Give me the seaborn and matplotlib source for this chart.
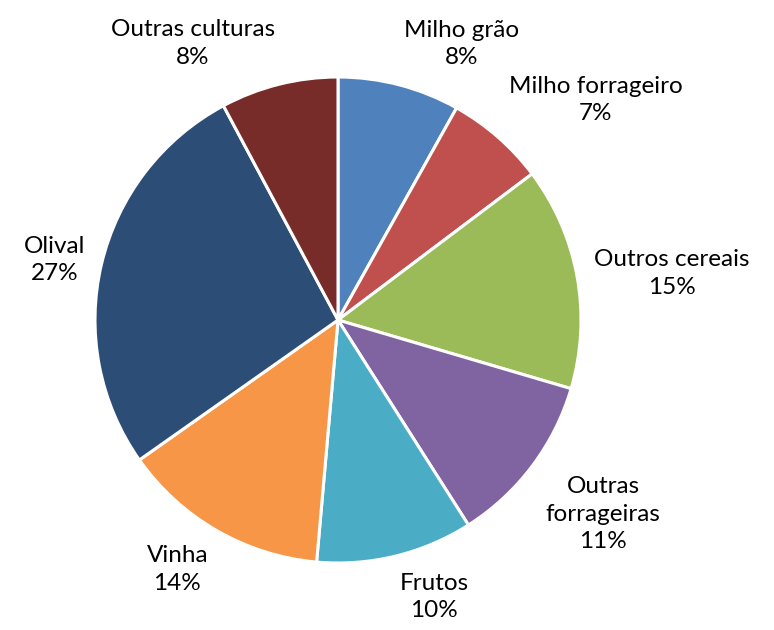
import numpy as np
import matplotlib
matplotlib.use("Agg")
import matplotlib.pyplot as plt
import seaborn as sns

# share of area per crop (%), clockwise from the top
crops = ["Milho grão", "Milho forrageiro", "Outros cereais", "Outras\nforrageiras",
         "Frutos", "Vinha", "Olival", "Outras culturas"]
shares = [8.1, 6.6, 14.8, 11.4, 10.4, 13.8, 26.9, 7.8]
pct_labels = ["8%", "7%", "15%", "11%", "10%", "14%", "27%", "8%"]
colors = ["#4F81BD", "#C0504D", "#9BBB59", "#8064A2",
          "#4BACC6", "#F79646", "#2C4D75", "#772C2A"]

sns.set_theme(style="white")
plt.rcParams['font.family'] = ['Lato', 'DejaVu Sans']

fig = plt.figure(figsize=(7.74, 6.3), dpi=100)
ax = fig.add_axes([0, 0, 1, 1])

palette = sns.color_palette(colors)
wedges, _ = ax.pie(shares, colors=palette, startangle=90, counterclock=False,
                   radius=1.0, center=(0, 0),
                   wedgeprops=dict(edgecolor="white", linewidth=2.2))

# outside-end labels, anchored on the side facing the pie
for w, name, pct in zip(wedges, crops, pct_labels):
    mid = np.deg2rad((w.theta1 + w.theta2) / 2)
    x, y = np.cos(mid), np.sin(mid)
    ha = "left" if x > 0.1 else ("right" if x < -0.1 else "center")
    va = "bottom" if y > 0.3 else ("top" if y < -0.3 else "center")
    ax.text(1.07 * x, 1.07 * y, f"{name}\n{pct}", ha=ha, va=va,
            multialignment="center", fontsize=17.5, color="black",
            linespacing=1.38)

# pie centre at about (338, 320) px with radius ~243 px
r_px = 243.0
ax.set_xlim(-338 / r_px, (774 - 338) / r_px)
ax.set_ylim(-(630 - 320) / r_px, 320 / r_px)
ax.set_aspect("auto")
ax.axis("off")

plt.savefig("out.png", dpi=100, facecolor="white")
plt.close()
